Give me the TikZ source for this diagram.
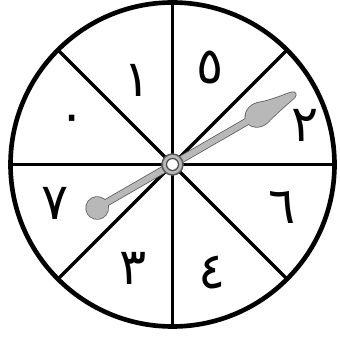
\documentclass[tikz,border=0pt]{standalone}
\usepackage{fontspec}
\newfontfamily\arabicfont[Script=Arabic]{DejaVu Sans}
\TeXXeTstate=1
\usepackage{tikz}
\usetikzlibrary{calc}

\begin{document}
\begin{tikzpicture}[
    x=0.025cm, y=0.025cm,
    rim/.style={draw, line width=3.3pt},
    spoke/.style={line width=2.4pt},
    num/.style={font=\arabicfont\fontsize{36}{38}\selectfont, inner sep=0pt},
    handline/.style={draw=black!65, line width=1.1pt},
    handfill/.style={fill=black!28},
]
\useasboundingbox (-172.5,-175.5) rectangle (167.5,164.5);
\coordinate (c) at (0,0);
% spokes and rim
\foreach \a in {0,45,...,315}
  \draw[spoke] (c) -- (\a:162);
\draw[rim] (c) circle (162);

% numbers
\node[num] (n1) at (-35.5,84) {\beginR ١\endR};
\node[num] (n5) at (37.5,97) {\beginR ٥\endR};
\node[num] (n2) at (132.5,39) {\beginR ٢\endR};
\node[num] (n6) at (109.5,-43) {\beginR ٦\endR};
\node[num] (n4) at (39.5,-108) {\beginR ٤\endR};
\node[num] (n3) at (-39.5,-104) {\beginR ٣\endR};
\node[num] (n7) at (-117.5,-39) {\beginR ٧\endR};
\node[num] (n0) at (-100.5,41) {\beginR ٠\endR};

% pointer
\begin{scope}[rotate=30]
\foreach \s in {handline,handfill}{
  \path[\s] (-87,-3) -- (88,-3) -- (88,3) -- (-87,3) -- cycle;
  \path[\s] (-87,0) circle (11);
  \path[\s] (86,3) .. controls (90,12) and (100,13) .. (107,10)
    .. controls (118,6) and (132,4.5) .. (139,3)
    .. controls (143,1.8) and (143,-1.8) .. (139,-3)
    .. controls (132,-4.5) and (118,-7) .. (107,-10)
    .. controls (100,-13) and (90,-12) .. (86,-3) -- cycle;
}
\end{scope}
% hub
\draw[handline, handfill] (c) circle (10.5);
\draw[draw=black!70, line width=0.9pt, fill=white] (c) circle (6);
\end{tikzpicture}
\end{document}
